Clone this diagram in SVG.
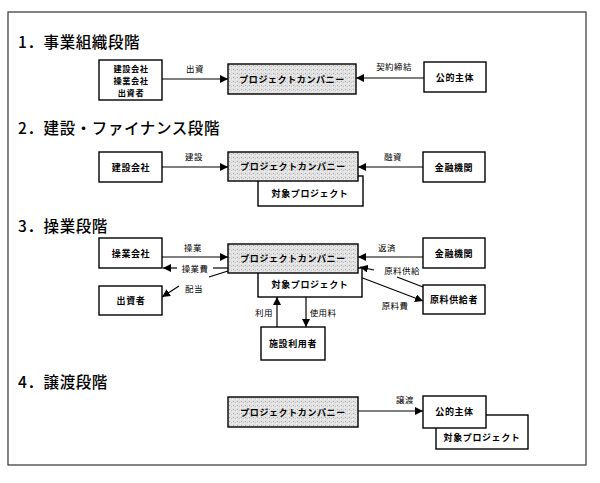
<svg xmlns="http://www.w3.org/2000/svg" width="600" height="483" viewBox="0 0 600 483">
<defs>
<marker id="ah" viewBox="0 0 10 10" refX="10" refY="5" markerWidth="8" markerHeight="8" markerUnits="userSpaceOnUse" orient="auto"><path d="M0,0 L10,5 L0,10 z" fill="#000"/></marker>
<pattern id="stip" width="4" height="4" patternUnits="userSpaceOnUse"><rect width="4" height="4" fill="#e2e2e2"/><rect x="1" y="1" width="1" height="1" fill="#a8a8a8"/><rect x="3" y="2" width="1" height="1" fill="#c4c4c4"/><rect x="0" y="3" width="1" height="1" fill="#f4f4f4"/></pattern>
</defs>
<style>
text{font-family:"Noto Sans CJK JP","Noto Sans",sans-serif;fill:#000}
.h{font-size:15.5px;font-weight:500;letter-spacing:0.6px}
.n{font-size:9px;font-weight:bold;text-anchor:middle;dominant-baseline:central;letter-spacing:0.6px}
.s{font-size:8.2px}
.l{font-size:8.5px;text-anchor:middle;dominant-baseline:central;letter-spacing:0.4px}
.box{fill:#fff;stroke:#000;stroke-width:1.4}
.pc{fill:url(#stip);stroke:#000;stroke-width:1.4}
.c{fill:none;stroke:#000;stroke-width:1.2}
.a{marker-end:url(#ah)}
</style>
<rect x="0" y="0" width="600" height="483" fill="#fff"/>
<rect x="8" y="12" width="578" height="453" fill="none" stroke="#333" stroke-width="1.2"/>

<text class="h" x="18" y="48">1．事業組織段階</text>
<text class="h" x="18" y="134">2．建設・ファイナンス段階</text>
<text class="h" x="18" y="232">3．操業段階</text>
<text class="h" x="18" y="388">4．譲渡段階</text>

<g id="connectors">
<line class="c a" x1="162" y1="79" x2="228" y2="79"/>
<line class="c a" x1="424" y1="78" x2="356" y2="78"/>
<line class="c a" x1="162" y1="167" x2="228" y2="167"/>
<line class="c a" x1="423" y1="167" x2="358" y2="167"/>
<line class="c a" x1="161" y1="257" x2="228" y2="257"/>
<line class="c" x1="228" y1="268" x2="213" y2="268"/>
<line class="c a" x1="177" y1="268" x2="163" y2="268"/>
<line class="c" x1="228" y1="271" x2="209" y2="277"/>
<line class="c a" x1="179" y1="286" x2="162" y2="297"/>
<line class="c a" x1="423" y1="257" x2="358" y2="257"/>
<line class="c" x1="423" y1="287" x2="397" y2="277"/>
<line class="c a" x1="374" y1="270" x2="360" y2="267"/>
<line class="c a" x1="360" y1="277" x2="423" y2="301"/>
<line class="c a" x1="277" y1="327" x2="277" y2="297"/>
<line class="c a" x1="306" y1="297" x2="306" y2="327"/>
<line class="c a" x1="358" y1="411" x2="423" y2="411"/>
<text class="l" x="195" y="68">出資</text>
<text class="l" x="394" y="66">契約締結</text>
<text class="l" x="194" y="156">建設</text>
<text class="l" x="393" y="156">融資</text>
<text class="l" x="193" y="247">操業</text>
<text class="l" x="195" y="268">操業費</text>
<text class="l" x="194" y="288">配当</text>
<text class="l" x="387" y="247">返済</text>
<text class="l" x="402" y="270">原料供給</text>
<text class="l" x="395" y="305">原料費</text>
<text class="l" x="264" y="312">利用</text>
<text class="l" x="323" y="312">使用料</text>
<text class="l" x="405" y="399">譲渡</text>
</g>

<g id="s1-investors"><rect class="box" x="99" y="60" width="63" height="40"/>
<text class="n s" x="131" y="68">建設会社</text><text class="n s" x="131" y="80">操業会社</text><text class="n s" x="131" y="92">出資者</text></g>
<g id="s1-pc"><rect class="pc" x="228" y="64" width="128" height="30"/><text class="n" x="292" y="79">プロジェクトカンパニー</text></g>
<g id="s1-public"><rect class="box" x="424" y="62" width="62" height="30"/><text class="n" x="455" y="77">公的主体</text></g>

<g id="s2-target"><rect class="box" x="258" y="176" width="105" height="30"/><text class="n" x="310" y="193">対象プロジェクト</text></g>
<g id="s2-builder"><rect class="box" x="99" y="152" width="63" height="30"/><text class="n" x="131" y="167">建設会社</text></g>
<g id="s2-pc"><rect class="pc" x="228" y="152" width="130" height="29"/><text class="n" x="293" y="166.5">プロジェクトカンパニー</text></g>
<g id="s2-bank"><rect class="box" x="423" y="152" width="62" height="30"/><text class="n" x="454" y="167">金融機関</text></g>

<g id="s3-target"><rect class="box" x="258" y="268" width="104" height="29"/><text class="n" x="310" y="284">対象プロジェクト</text></g>
<g id="s3-operator"><rect class="box" x="99" y="238" width="63" height="30"/><text class="n" x="131" y="253">操業会社</text></g>
<g id="s3-pc"><rect class="pc" x="228" y="244" width="130" height="29"/><text class="n" x="293" y="258.5">プロジェクトカンパニー</text></g>
<g id="s3-investor"><rect class="box" x="99" y="286" width="63" height="29"/><text class="n" x="131" y="300.5">出資者</text></g>
<g id="s3-bank"><rect class="box" x="423" y="238" width="62" height="30"/><text class="n" x="454" y="253">金融機関</text></g>
<g id="s3-supplier"><rect class="box" x="423" y="285" width="62" height="29"/><text class="n" x="454" y="299.5">原料供給者</text></g>
<g id="s3-users"><rect class="box" x="261" y="327" width="64" height="33"/><text class="n" x="293" y="343.5">施設利用者</text></g>

<g id="s4-pc"><rect class="pc" x="228" y="397" width="130" height="30"/><text class="n" x="293" y="412">プロジェクトカンパニー</text></g>
<g id="s4-target"><rect class="box" x="436" y="415" width="92" height="34"/><text class="n" x="482" y="437">対象プロジェクト</text></g>
<g id="s4-public"><rect class="box" x="423" y="396" width="63" height="32"/><text class="n" x="454.5" y="411">公的主体</text></g>
</svg>
